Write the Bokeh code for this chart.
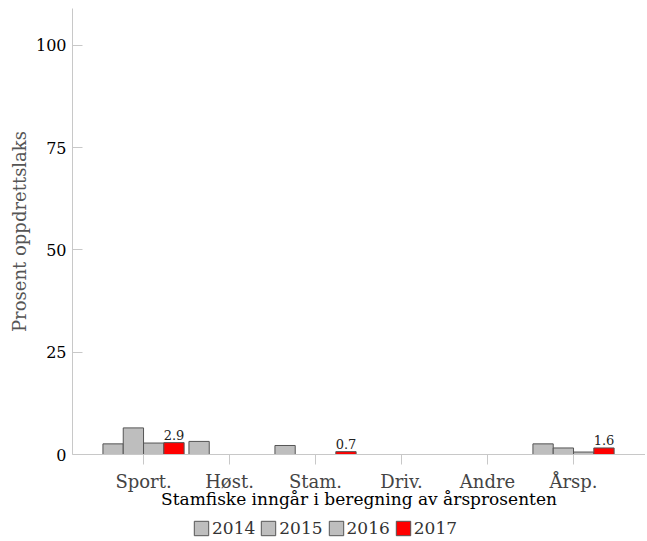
import numpy as np
from bokeh.plotting import figure
from bokeh.layouts import column
from bokeh.models import Legend, LegendItem, ColumnDataSource, FixedTicker, Range1d
from bokeh.core.properties import value
from bokeh.embed import file_html
from bokeh.resources import INLINE

categories = ["Sport.", "Høst.", "Stam.", "Driv.", "Andre", "Årsp."]
years = ["2014", "2015", "2016", "2017"]
v2014 = [2.6, 3.2, 2.2, np.nan, np.nan, 2.6]
v2015 = [6.5, np.nan, 0.0, np.nan, np.nan, 1.6]
v2016 = [2.8, np.nan, 0.0, np.nan, np.nan, 0.6]
v2017 = [2.9, np.nan, 0.7, np.nan, np.nan, 1.6]
series = [v2014, v2015, v2016, v2017]
colors = ["#BEBEBE", "#BEBEBE", "#BEBEBE", "#FF0000"]

FONT = "DejaVu Serif"
bar_w = 0.236

p = figure(output_backend="svg", toolbar_location=None,
           frame_width=573, frame_height=446,
           min_border_left=72, min_border_right=0, min_border_top=8, min_border_bottom=0,
           x_range=Range1d(-0.826, 5.837), y_range=Range1d(0, 109))
p.outline_line_color = None
p.grid.grid_line_color = None
p.background_fill_color = "white"

for i, (vals, col, yr) in enumerate(zip(series, colors, years)):
    arr = np.array(vals, dtype=float)
    idx = np.where(~np.isnan(arr))[0]
    xs = idx + (i - 1.5) * bar_w
    src = ColumnDataSource(dict(x=xs, top=arr[idx]))
    p.vbar(x="x", top="top", width=bar_w, bottom=0, source=src,
           fill_color=col, line_color="#555555", line_width=1)

# value labels for 2017
arr = np.array(v2017, dtype=float)
idx = np.where(~np.isnan(arr))[0]
lab = ColumnDataSource(dict(x=idx + 1.5 * bar_w, y=arr[idx],
                            t=["%.1f" % v for v in arr[idx]]))
p.text(x="x", y="y", text="t", source=lab, text_align="center",
       text_baseline="bottom", y_offset=-3, text_font=value(FONT),
       text_font_size="13px", text_color="#222222")

# axes
p.xaxis.ticker = FixedTicker(ticks=list(range(len(categories))))
p.xaxis.major_label_overrides = {i: c for i, c in enumerate(categories)}
p.xaxis.axis_label = "Stamfiske inngår i beregning av årsprosenten"
p.xaxis.axis_label_text_font = FONT
p.xaxis.axis_label_text_font_style = "normal"
p.xaxis.axis_label_text_font_size = "17px"
p.xaxis.axis_label_text_color = "black"
p.xaxis.axis_label_standoff = -6
p.xaxis.major_label_text_font = FONT
p.xaxis.major_label_text_font_size = "18px"
p.xaxis.major_label_text_color = "#444444"
p.xaxis.major_label_standoff = 6
p.xaxis.major_tick_in = 0
p.xaxis.major_tick_out = 10
p.xaxis.minor_tick_line_color = None
p.xaxis.axis_line_color = "#C8C8C8"
p.xaxis.major_tick_line_color = "#C8C8C8"

p.yaxis.ticker = FixedTicker(ticks=[0, 25, 50, 75, 100])
p.yaxis.axis_label = "Prosent oppdrettslaks"
p.yaxis.axis_label_text_font = FONT
p.yaxis.axis_label_text_font_style = "normal"
p.yaxis.axis_label_text_font_size = "18px"
p.yaxis.axis_label_text_color = "#555555"
p.yaxis.axis_label_standoff = 3
p.yaxis.major_label_text_font = FONT
p.yaxis.major_label_text_font_size = "16px"
p.yaxis.major_label_text_color = "black"
p.yaxis.major_label_standoff = 6
p.yaxis.major_tick_in = 10
p.yaxis.major_tick_out = 0
p.yaxis.minor_tick_line_color = None
p.yaxis.axis_line_color = "#C8C8C8"
p.yaxis.major_tick_line_color = "#C8C8C8"

# legend strip (its frame is aligned with the main plot's frame by the column layout)
p2 = figure(output_backend="svg", toolbar_location=None, width=645, height=30,
            x_axis_location=None, y_axis_location=None,
            min_border_left=0, min_border_right=0, min_border_top=0, min_border_bottom=0,
            x_range=Range1d(0, 1), y_range=Range1d(0, 1))
p2.grid.grid_line_color = None
p2.outline_line_color = None
items = []
for col, yr in zip(colors, years):
    src = ColumnDataSource(dict(x=[np.nan], top=[np.nan]))
    r = p2.vbar(x="x", top="top", width=1, source=src,
                fill_color=col, line_color="#555555", line_width=1)
    items.append(LegendItem(label=yr, renderers=[r]))
legend = Legend(items=items, orientation="horizontal", location=(120, 3),
                glyph_width=18, glyph_height=18, label_standoff=2, spacing=4,
                padding=0, margin=0, border_line_color=None, background_fill_alpha=0,
                label_text_font=FONT, label_text_font_size="17px",
                label_text_color="#333333")
p2.add_layout(legend)

layout = column(p, p2, spacing=0)
open("out.html", "w").write(file_html(layout, INLINE))
